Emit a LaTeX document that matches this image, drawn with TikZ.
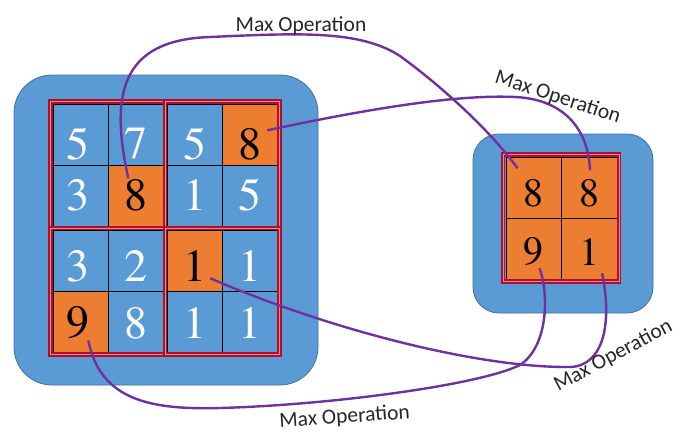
\documentclass[tikz,border=0pt]{standalone}
\usepackage{fontspec}
\IfFontExistsTF{TeX Gyre Termes}
  {\newfontfamily\numfont{TeX Gyre Termes}}
  {\newfontfamily\numfont{Latin Modern Roman}}
\newfontfamily\labelfont{Carlito}
\usetikzlibrary{calc}

\definecolor{cellblue}{HTML}{5B9BD5}
\definecolor{boxedge}{HTML}{41719C}
\definecolor{cellorange}{HTML}{ED7D31}
\definecolor{linkpurple}{HTML}{7030A0}
\definecolor{framered}{HTML}{B0102A}
\definecolor{framepink}{HTML}{E88A96}
\definecolor{labelgray}{HTML}{262626}

\tikzset{
  panel/.style={fill=cellblue, draw=boxedge, line width=0.8pt},
  cellbox/.style={draw=black, line width=0.6pt, minimum width=55pt,
    minimum height=61pt, inner sep=0pt, anchor=north west, fill=cellblue},
  smallcell/.style={cellbox, minimum width=55.5pt, fill=cellorange},
  hot/.style={fill=cellorange},
  quadframe/.style={draw=framered, line width=1.9pt, double=framepink,
    double distance=0.8pt},
  bigdigit/.style={font=\numfont\fontsize{46}{46}\selectfont, text=white, inner sep=0pt},
  hotdigit/.style={bigdigit, text=black},
  smalldigit/.style={font=\numfont\fontsize{40}{40}\selectfont, text=black, inner sep=0pt},
  link/.style={draw=linkpurple, line width=2.4pt},
  oplabel/.style={font=\labelfont\fontsize{21.5}{22}\selectfont, text=labelgray,
    inner sep=0pt, anchor=base},
}

\begin{document}
\begin{tikzpicture}[x=1pt, y=-1pt]
\useasboundingbox (0,0) rectangle (681,432);

% rounded blue panels
\draw[panel, rounded corners=38pt] (14,75) rectangle (318,385);
\draw[panel, rounded corners=26pt] (473,134) rectangle (653,313);

% 4x4 input grid
\node[cellbox]      (b11) at (53,104)  {};
\node[cellbox]      (b12) at (108,104) {};
\node[cellbox]      (b13) at (167,104) {};
\node[cellbox, hot] (b14) at (222,104) {};
\node[cellbox]      (b21) at (53,165)  {};
\node[cellbox, hot] (b22) at (108,165) {};
\node[cellbox]      (b23) at (167,165) {};
\node[cellbox]      (b24) at (222,165) {};
\node[cellbox]      (b31) at (53,230)  {};
\node[cellbox]      (b32) at (108,230) {};
\node[cellbox, hot] (b33) at (167,230) {};
\node[cellbox]      (b34) at (222,230) {};
\node[cellbox, hot] (b41) at (53,291)  {};
\node[cellbox]      (b42) at (108,291) {};
\node[cellbox]      (b43) at (167,291) {};
\node[cellbox]      (b44) at (222,291) {};

% 2x2 pooled grid
\node[smallcell] (s11) at (505.5,157) {};
\node[smallcell] (s12) at (561,157)   {};
\node[smallcell] (s21) at (505.5,218) {};
\node[smallcell] (s22) at (561,218)   {};

% pooling windows
\draw[quadframe] (50.5,101.5) rectangle (165,228);
\draw[quadframe] (165,101.5) rectangle (279.5,228);
\draw[quadframe] (50.5,228) rectangle (165,354.5);
\draw[quadframe] (165,228) rectangle (279.5,354.5);
\draw[quadframe] (503,154.5) rectangle (619,281.5);

% input values
\node[bigdigit] (v11) at ($(b11.center)+(-3,9)$) {5};
\node[bigdigit] (v12) at ($(b12.center)+(0,9)$) {7};
\node[bigdigit] (v13) at ($(b13.center)+(0,9)$) {5};
\node[hotdigit] (v14) at ($(b14.center)+(0,9)$) {8};
\node[bigdigit] (v21) at ($(b21.center)+(-3,-1)$) {3};
\node[hotdigit] (v22) at ($(b22.center)+(0,-1)$) {8};
\node[bigdigit] (v23) at ($(b23.center)+(0,-1)$) {1};
\node[bigdigit] (v24) at ($(b24.center)+(0,-1)$) {5};
\node[bigdigit] (v31) at ($(b31.center)+(-3,5)$) {3};
\node[bigdigit] (v32) at ($(b32.center)+(0,5)$) {2};
\node[hotdigit] (v33) at ($(b33.center)+(0,5)$) {1};
\node[bigdigit] (v34) at ($(b34.center)+(0,5)$) {1};
\node[hotdigit] (v41) at ($(b41.center)+(-3,1)$) {9};
\node[bigdigit] (v42) at ($(b42.center)+(0,1)$) {8};
\node[bigdigit] (v43) at ($(b43.center)+(0,1)$) {1};
\node[bigdigit] (v44) at ($(b44.center)+(0,1)$) {1};

% pooled values
\node[smalldigit] (w11) at ($(s11.center)+(0,5)$) {8};
\node[smalldigit] (w12) at ($(s12.center)+(0,5)$) {8};
\node[smalldigit] (w21) at ($(s21.center)+(0,3)$) {9};
\node[smalldigit] (w22) at ($(s22.center)+(0,3)$) {1};

% connector end points inside the cells
\coordinate (a1) at ($(b22.center)+(-7.5,-17.5)$);
\coordinate (e1) at ($(s11.center)+(-16,-19.5)$);
\coordinate (a2) at ($(b14.center)+(17.5,-4.5)$);
\coordinate (e2) at ($(s12.center)+(1,-17.5)$);
\coordinate (a3) at ($(b41.center)+(7.5,18.5)$);
\coordinate (e3) at ($(s21.center)+(6,19.5)$);
\coordinate (a4) at ($(b33.center)+(15.5,17.5)$);
\coordinate (e4) at ($(s22.center)+(13,24.5)$);

% max-operation connectors
\draw[link] (a1) .. controls (110,95) and (120,40) .. (210,37)
  .. controls (300,33) and (360,30) .. (400,56)
  .. controls (440,85) and (490,130) .. (e1);
\draw[link] (a2) .. controls (400,102) and (470,95) .. (515,97)
  .. controls (560,99) and (588,125) .. (e2);
\draw[link] (a3) .. controls (100,400) and (150,410) .. (220,408)
  .. controls (330,405) and (480,385) .. (520,365)
  .. controls (550,345) and (548,290) .. (e3);
\draw[link] (a4) .. controls (330,330) and (480,368) .. (570,367)
  .. controls (605,366) and (612,320) .. (e4);

% labels
\node[oplabel] (lab1) at (301,31) {Max Operation};
\node[oplabel, rotate=-18] (lab2) at (556,103) {Max Operation};
\node[oplabel, rotate=4] (lab3) at (345,423) {Max Operation};
\node[oplabel, rotate=28] (lab4) at (616,361) {Max Operation};
\end{tikzpicture}
\end{document}
